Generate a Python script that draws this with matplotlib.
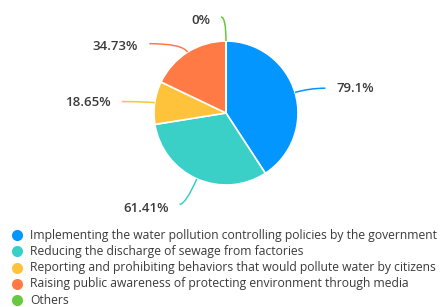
import numpy as np
import matplotlib
matplotlib.use('Agg')
import matplotlib.pyplot as plt
from matplotlib.path import Path
from matplotlib.patches import PathPatch

categories = [
    "Implementing the water pollution controlling policies by the government",
    "Reducing the discharge of sewage from factories",
    "Reporting and prohibiting behaviors that would pollute water by citizens",
    "Raising public awareness of protecting environment through media",
    "Others",
]
values = [79.1, 61.41, 18.65, 34.73, 0]
labels = ["79.1%", "61.41%", "18.65%", "34.73%", "0%"]
colors = ["#0396FF", "#3ACFC7", "#FEC33B", "#FF7A45", "#67C93D"]

plt.rcParams['font.family'] = ['Open Sans', 'DejaVu Sans']

W, H = 443, 307
fig = plt.figure(figsize=(W / 100, H / 100), dpi=100)
ax = fig.add_axes([0, 0, 1, 1])
cx, cy, R = 226, 194, 72
wedges, _ = ax.pie(values, colors=colors, startangle=90, counterclock=False,
                   center=(cx, cy), radius=R,
                   wedgeprops=dict(edgecolor='white', linewidth=1.2))
ax.set_xlim(0, W)
ax.set_ylim(0, H)
ax.set_aspect('equal')
ax.axis('off')

# label line layout: (radial length, horizontal length, side, text dy)
layout = [(15, 16, 1, 0), (28, 6, -1, -4), (8, 25, -1, -1), (10, 33, -1, -3), (24, 5, -1, -3)]
gap = 11
for w, lab, col, (l1, l2, side, tdy) in zip(wedges, labels, colors, layout):
    mid = np.deg2rad((w.theta1 + w.theta2) / 2)
    ex, ey = cx + R * np.cos(mid), cy + R * np.sin(mid)
    bx, by = ex + l1 * np.cos(mid), ey + l1 * np.sin(mid)
    tx, ty = bx + side * l2, by
    path = Path([(ex, ey), (bx, by), (tx, ty)], [Path.MOVETO, Path.CURVE3, Path.CURVE3])
    ax.add_patch(PathPatch(path, fc='none', ec=col, lw=1.1))
    ax.text(tx + side * gap, ty + tdy, lab, ha='left' if side > 0 else 'right',
            va='center', fontsize=9.5, fontweight='semibold', color='#3a3a3a')

# legend
target_w = 407
fs = 8.5
t = ax.text(30, 0, categories[0], fontsize=fs)
fig.canvas.draw()
bw = t.get_window_extent().width
t.remove()
fs = fs * target_w / bw
for i, (cat, col) in enumerate(zip(categories, colors)):
    y = H - (235 + i * 16.3)
    ax.plot([17], [y], 'o', ms=8, color=col, mec='none')
    ax.text(30, y, cat, va='center', ha='left', fontsize=fs, color='#3a3a3a')

fig.savefig('out.png', dpi=100)
